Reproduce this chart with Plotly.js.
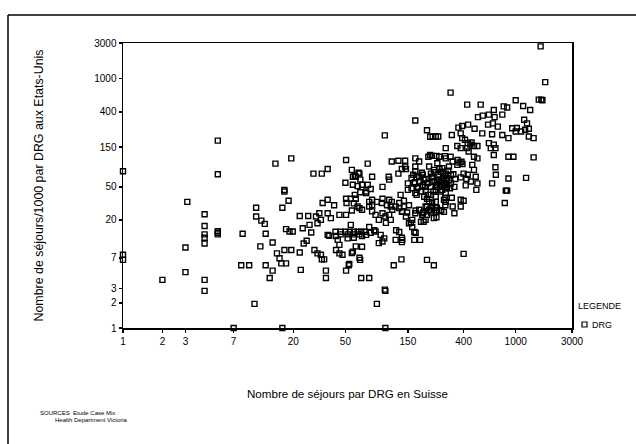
<!DOCTYPE html>
<html><head><meta charset="utf-8">
<script src="https://cdn.plot.ly/plotly-3.0.1.min.js"></script>
<style>html,body{margin:0;padding:0;background:#fff;} #chart{width:636px;height:444px;}</style>
</head><body><div id="chart"></div>
<script>
// [stays per DRG in Switzerland, stays/1000 per DRG in the United States]
const drgPoints = [
 [1,77],[1,7.6],[1,6.6],[2,3.8],[3.1,33],[3,9.3],[3,4.7],[4.2,23.4],[4.2,16.9],[4.2,13.4],[4.2,12.2],[4.2,10.4],[4.2,3.8],[4.2,2.8],[5.3,180],[5.3,71],[5.3,14.6],[5.3,13.4],[5.3,14],[7,1],[8.2,13.6],[8,5.7],[9.2,5.7],
 [10.1,1.95],[10.4,28],[10.4,22],[11.4,19.6],[12.1,17.9],[12.3,13.6],[11.2,9.6],[12.3,5.7],[13.9,4.9],[13.2,4],[13.9,10.7],[14.6,95],[16.5,28],[17.6,15.5],[18.7,14.5],[19.8,14.5],[17.1,46],[17.1,44],[18.4,34],[19.3,110],[15,7.9],[15.7,6.9],[16.2,6],[17.6,6],[17.1,8.7],[19.3,8.7],[16.5,1],
 [22.4,22.3],[22.4,8.1],[22.8,5],[23.6,15.9],[26.6,17.4],[27.4,14.1],[26,22.3],[28.5,72],[29,8.7],[24,10.4],[25.3,11.2],[30.6,7.9],[32.5,7.6],[33,6.7],[34.4,6.7],[29.8,22],[31.6,24],[36.6,24],[38.7,21],[30.6,18.2],[32.5,20],[33,72],[36.6,82],[33.5,32],[36.6,35],[41,30],[35.5,4.9],[35.5,4],[36.6,13.2],[37.6,12.9],[42.4,12.8],[43.7,11.5],[45,10],[42.4,8.7],[45,7.9],[47.5,7.6],[45,23],[50.6,23],[50.6,4.9],[53.5,5.9],[50.6,105],[50.6,36],[51,32],[50,56],[42,14.4],[46,14.4],[46,13.4],
 [50,14.4],[54,14.4],[58,14.4],[62,14.4],[66,14.4],[70,14.4],[52,13.4],[58,13.4],[64,13.4],[52,12],[58,12.2],[67,12.8],[56,80],[60,66],[64,72],[59,40],[62,51],[65,43],[72,42],[78,47],[74,53],[57,66],[65,61],[63,74],[59,68],[80,66],[57,53],[67,53],[72,44],[55,36],[60,36],[80,35],[60,9.6],[57,8.3],[64.8,6.6],[66,4],[76,4],[58,31.6],[64,27.7],[67,26.5],[56,26],[62,29],[55,17.4],[67,9.5],[64,7],[53,5.7],[56,8],[74,95],[72,13.2],[78,14],[85,14.5],[93,13.2],[99,12],[90,10.5],[96,11],[76,16.4],[83,15],[87,1.95],[76,29],[80,25.3],[85,23],[90,20],[96,24],[76,33],[80,30],[87,33],[95,32],[96,36],[96,50],
 [100,2.9],[101,2.8],[101,1],[100,208],[108,35],[108,61],[107,66],[102,18.4],[113,101],[127,103],[143,103],[135,82],[143,88],[127,72],[145,82],[104,30],[113,33],[111,29],[129,32],[140,29],[135,25],[148,24.5],[101,22],[108,23],[114,26.5],[121,29],[129,27.7],[136,25.3],[145,22],[111,20],[122,15],[129,14.3],[135,12.2],[135,10.8],[121,11.5],[136,11.5],[134,6.7],[117,5.7],[132,40],[140,34],[150,55],[150,46],
 [153,30],[153,18.2],[162,20],[171,24],[183,26.5],[193,23],[205,20],[218,26.5],[230,29],[245,27.7],[172,26],[198,25],[210,29],[230,32],[250,28],[270,26],[290,30],[158,18.4],[162,16.4],[168,14.3],[172,14],[168,11.5],[186,11.5],[189,19],[198,19],[210,23],[225,24.5],[237,21],[248,21.5],[250,26],[210,6.6],[237,5.7],[171,88],[171,77],[183,66],[198,61],[210,55],[168,55],[177,48],[218,88],[237,80],[252,96],[229,66],[245,46],[210,36],[245,38],[171,42],[192,74],[203,50],[225,40],[160,64],[171,110],[183,101],[215,115],[229,118],[248,118],[171,314],[210,240],[222,200],[232,202],[245,202],[256,202],[222,121],[222,26],[195,24],[205,29],[218,33],[245,33],[165,70],[175,65],[185,58],[195,52],[205,45],[215,40],[195,70],[205,62],[215,56],[225,50],[235,44],[225,72],[240,58],[250,50],[200,38],[190,44],[180,50],[170,57],[160,48],[175,40],[235,65],[240,75],[245,52],[250,60],
 [275,84],[292,72],[260,61],[283,53],[265,44],[292,42],[283,35],[252,55],[279,64],[298,50],[292,110],[260,115],[262,82],[270,76],[280,72],[290,68],[300,64],[310,60],[270,58],[285,55],[300,52],[315,48],[265,50],[275,46],[295,62],[320,70],[305,78],[255,70],[275,52],[290,48],[320,55],[340,50],[345,62],[380,65],[420,62],[430,70],[290,37],[325,37],[380,35],[400,34],[260,26],[283,25],[292,33],[330,29],[340,24],[380,29],[400,7.8],
 [292,146],[288,117],[318,115],[318,680],[426,488],[540,488],[325,210],[380,220],[390,193],[410,184],[365,258],[390,270],[433,280],[485,250],[515,345],[560,360],[555,220],[358,155],[380,146],[426,146],[450,161],[480,155],[510,155],[437,133],[510,110],[480,115],[466,92],[480,80],[495,66],[510,55],[500,46],[330,101],[358,92],[309,88],[360,105],[372,98],[385,100],[392,94],[400,72],[415,52],[334,71],[430,168],[460,171],[455,58],
 [1550,2450],[1680,910],[1500,560],[1570,560],[1600,550],[1000,550],[1140,470],[680,420],[810,465],[860,450],[1290,420],[624,370],[790,370],[690,345],[670,290],[1160,321],[1220,290],[1260,250],[1180,243],[1260,202],[1370,193],[940,253],[1020,255],[1100,232],[1000,232],[615,280],[730,265],[660,215],[790,210],[880,193],[624,168],[680,161],[700,146],[645,146],[680,121],[880,115],[960,115],[1370,113],[700,86],[705,70],[660,55],[840,45],[860,45],[825,32],[880,63],[1200,64]
];

const tickValues = [1, 2, 3, 7, 20, 50, 150, 400, 1000];
const tickLabels = ["1", "2", "3", "7", "20", "50", "150", "400", "1000", "3000"];
const AXIS_TOP_LOG = 3.43; // the printed axes end at the "3000" label

const xTitle = "Nombre de séjours par DRG en Suisse";
const yTitle = "Nombre de séjours/1000 par DRG aux Etats-Unis";

const tickvals = tickValues.concat([Math.pow(10, AXIS_TOP_LOG)]);

// pixel helpers for decorations (plot area: x 123..572, y 43..328)
const L = 123, R = 572, T = 43, B = 328;
const px = x => (x - L) / (R - L);
const py = y => (B - y) / (B - T);

const trace = {
  type: 'scatter', mode: 'markers',
  x: drgPoints.map(p => p[0]),
  y: drgPoints.map(p => p[1]),
  name: 'DRG',
  marker: {symbol: 'square-open', size: 5, color: '#000', line: {width: 1.4, color: '#000'}},
  cliponaxis: false,
  hoverinfo: 'x+y'
};

const axisCommon = {
  type: 'log', range: [0, AXIS_TOP_LOG],
  tickmode: 'array', tickvals: tickvals, ticktext: tickLabels,
  ticks: 'outside', ticklen: 3, tickwidth: 1.5, tickcolor: '#000',
  showline: true, linewidth: 1.5, linecolor: '#000', mirror: true,
  showgrid: false, zeroline: false,
  tickfont: {size: 10, color: '#000'},
  automargin: false
};

const layout = {
  width: 636, height: 444,
  margin: {l: L, r: 636 - R, t: T, b: 444 - B, pad: 0},
  paper_bgcolor: '#fff', plot_bgcolor: '#fff',
  showlegend: false,
  font: {family: 'Liberation Sans, Arial, sans-serif', color: '#000', size: 10},
  xaxis: Object.assign({}, axisCommon, {
    title: {text: xTitle, font: {size: 11.6}, standoff: 44}
  }),
  yaxis: Object.assign({}, axisCommon, {
    title: {text: yTitle, font: {size: 12.4}, standoff: 48}
  }),
  shapes: [
    {type: 'line', xref: 'paper', yref: 'paper', x0: px(8), x1: px(8), y0: py(444), y1: py(15), line: {color: '#000', width: 1.5}},
    {type: 'line', xref: 'paper', yref: 'paper', x0: px(8), x1: px(636), y0: py(15), y1: py(15), line: {color: '#000', width: 1.5}},
    {type: 'rect', xref: 'paper', yref: 'paper', x0: px(582), x1: px(587), y0: py(327), y1: py(322), line: {color: '#000', width: 1.2}}
  ],
  annotations: [
    {xref: 'paper', yref: 'paper', x: px(576), y: py(306), xanchor: 'left', yanchor: 'middle', showarrow: false, text: 'LEGENDE', font: {size: 9}},
    {xref: 'paper', yref: 'paper', x: px(590), y: py(324.5), xanchor: 'left', yanchor: 'middle', showarrow: false, text: 'DRG', font: {size: 9}},
    {xref: 'paper', yref: 'paper', x: px(38), y: py(413), xanchor: 'left', yanchor: 'middle', showarrow: false, text: 'SOURCES  Etude Case Mix', font: {size: 6}},
    {xref: 'paper', yref: 'paper', x: px(53), y: py(420), xanchor: 'left', yanchor: 'middle', showarrow: false, text: 'Health Department Victoria', font: {size: 6}}
  ]
};

Plotly.newPlot('chart', [trace], layout, {displayModeBar: false, staticPlot: true});
</script>
</body></html>
